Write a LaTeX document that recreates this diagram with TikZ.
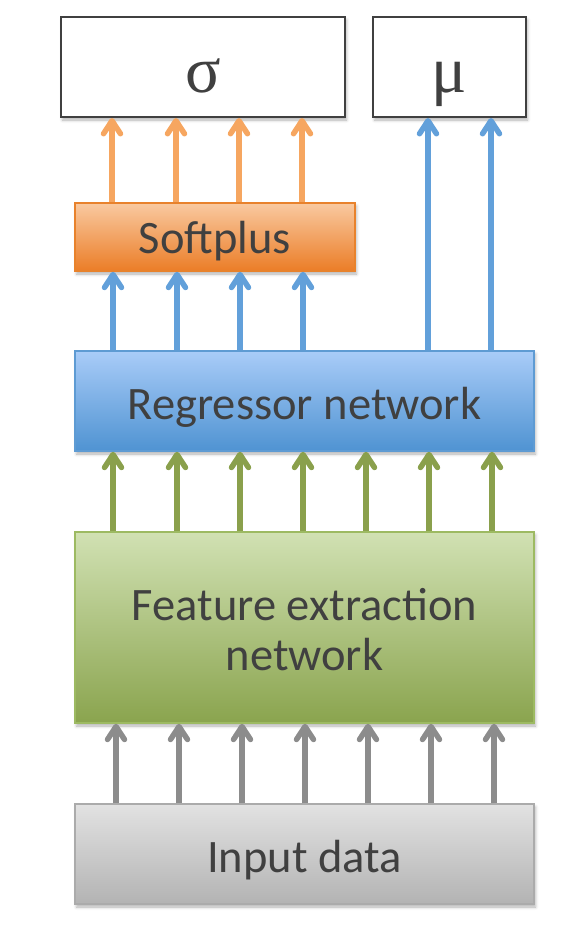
\documentclass[tikz,border=0pt]{standalone}
\usepackage{fontspec}
\setmainfont{Carlito}
\newfontfamily\greekfont{Liberation Serif}
\usetikzlibrary{arrows.meta,shadows.blur}
\definecolor{txt}{HTML}{404040}
\definecolor{orarr}{HTML}{F6A660}
\definecolor{blarr}{HTML}{62A0DA}
\definecolor{grarr}{HTML}{8AA04C}
\definecolor{gyarr}{HTML}{8C8C8C}
\definecolor{sptop}{HTML}{F9C9A0}
\definecolor{spbot}{HTML}{EB7D27}
\definecolor{spbrd}{HTML}{E8822C}
\definecolor{rgtop}{HTML}{A9CCF8}
\definecolor{rgbot}{HTML}{4F93D2}
\definecolor{rgbrd}{HTML}{5E9BD3}
\definecolor{fetop}{HTML}{D1E1B3}
\definecolor{febot}{HTML}{8AA44E}
\definecolor{febrd}{HTML}{9DBA62}
\definecolor{intop}{HTML}{E2E2E2}
\definecolor{inbot}{HTML}{B3B3B3}
\definecolor{inbrd}{HTML}{ABABAB}
\tikzset{
  box/.style={rectangle, inner sep=0pt, line width=1.5pt, text=txt,
     font=\fontsize{46.5}{50}\selectfont, align=center,
     blur shadow={shadow xshift=1.5pt, shadow yshift=-3pt, shadow blur radius=3pt, shadow opacity=30}},
  oneline/.style={text height=36pt, text depth=0pt},
  outbox/.style={box, draw=txt, fill=white, line width=2pt, text height=50pt, text depth=0pt,
     font=\greekfont\fontsize{66}{66}\selectfont},
  conn/.style={line width=5.5pt, -{Straight Barb[length=13pt,width=17pt,round]}},
}
\begin{document}
\begin{tikzpicture}[x=1pt,y=-1pt]
\useasboundingbox (0,0) rectangle (588,932);
\node[outbox, minimum width=284pt, minimum height=100pt] (sig) at (203,67) {σ};
\node[outbox, minimum width=153pt, minimum height=100pt] (mu) at (449.5,67) {μ};
\node[box, draw=spbrd, top color=sptop, bottom color=spbot, text height=33pt, text depth=1pt, minimum width=280pt, minimum height=68pt] (sp) at (215,237) {Softplus};
\node[box, oneline, draw=rgbrd, top color=rgtop, bottom color=rgbot, minimum width=459pt, minimum height=100pt] (rg) at (304.5,401) {Regressor network};
\node[box, draw=febrd, top color=fetop, bottom color=febot, minimum width=459pt, minimum height=191pt] (fe) at (304.5,627.5) {\rule{0pt}{37pt}Feature extraction\\network};
\node[box, oneline, draw=inbrd, top color=intop, bottom color=inbot, minimum width=459pt, minimum height=100pt] (in) at (304.5,854) {Input data};
\foreach \x in {112,176,239,302}
  \draw[conn, orarr] (\x,0 |- sp.north) -- (\x,0 |- sig.south);
\foreach \x in {428,491}
  \draw[conn, blarr] (\x,0 |- rg.north) -- (\x,0 |- mu.south);
\foreach \x in {113,177,240,303}
  \draw[conn, blarr] (\x,0 |- rg.north) -- (\x,0 |- sp.south);
\foreach \x in {113,177,240,303,366,429,492}
  \draw[conn, grarr] (\x,0 |- fe.north) -- (\x,0 |- rg.south);
\foreach \x in {116,179,242,305,368,431,494}
  \draw[conn, gyarr] (\x,0 |- in.north) -- (\x,0 |- fe.south);
\end{tikzpicture}
\end{document}
